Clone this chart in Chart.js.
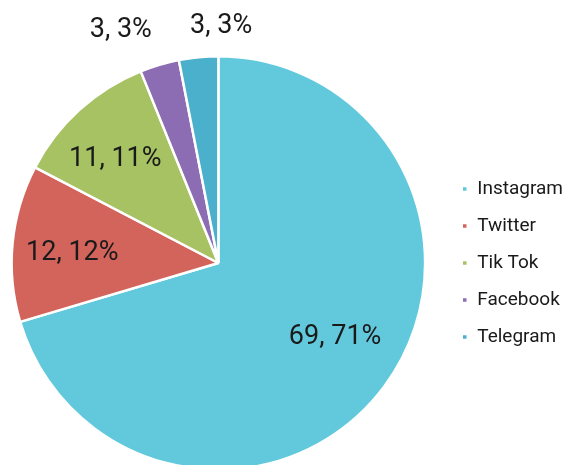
<!DOCTYPE html>
<html>
<head>
<meta charset="utf-8">
<script src="https://cdn.jsdelivr.net/npm/chart.js@4"></script>
<style>
    html, body { margin: 0; padding: 0; background: #fff; overflow: hidden; }
    #wrap { width: 562px; height: 480px; }
</style>
</head>
<body>
<div id="wrap"><canvas id="pie-chart" width="562" height="480"></canvas></div>
<script>
const LABELS = ["Instagram", "Twitter", "Tik Tok", "Facebook", "Telegram"];
const VALUES = [69, 12, 11, 3, 3];
const PERCENTS = [71, 12, 11, 3, 3];

const COLORS = [
    "#62c9dd",
    "#d3645c",
    "#a7c262",
    "#8c6cb2",
    "#4bb0cb",
];

// where each value label sits: fraction of radius + small nudge
const LABEL_POS = [
    { r: 0.62, dx: 14, dy: -2 },
    { r: 0.70, dx: -2, dy: 4 },
    { r: 0.72, dx: -3, dy: 6 },
    { r: 1.20, dx: -27, dy: 5 },
    { r: 1.17, dx: 26, dy: 4 },
];

const valueLabels = {
    id: "valueLabels",
    afterDatasetsDraw(chart) {
        const ctx = chart.ctx;
        const arcs = chart.getDatasetMeta(0).data;
        ctx.save();
        ctx.font = "27px Roboto";
        ctx.fillStyle = "#1a1a1a";
        ctx.textAlign = "center";
        ctx.textBaseline = "middle";
        arcs.forEach((arc, i) => {
            const p = LABEL_POS[i];
            const mid = (arc.startAngle + arc.endAngle) / 2;
            const r = arc.outerRadius * p.r;
            const x = arc.x + Math.cos(mid) * r + p.dx;
            const y = arc.y + Math.sin(mid) * r + p.dy;
            ctx.fillText(`${VALUES[i]}, ${PERCENTS[i]}%`, x, y);
        });
        ctx.restore();
    }
};

// layout won't take a negative left pad, so widen the area after layout
const pullLeft = {
    id: "pullLeft",
    afterLayout(chart) {
        const a = chart.chartArea;
        a.left -= 7;
        a.width = a.right - a.left;
    }
};

const ctx = document.getElementById("pie-chart").getContext("2d");

new Chart(ctx, {
    type: "pie",
    data: {
        labels: LABELS,
        datasets: [{
            data: VALUES,
            backgroundColor: COLORS,
            borderColor: "#ffffff",
            borderWidth: 2.5,
        }]
    },
    options: {
        responsive: false,
        animation: false,
        layout: { padding: { top: 55, bottom: 9, left: 0, right: -11 } },
        plugins: {
            legend: {
                position: "right",
                labels: {
                    color: "#1a1a1a",
                    font: { family: "Roboto", size: 19 },
                    boxWidth: 6,
                    boxHeight: 6,
                    padding: 18,
                }
            },
            tooltip: { enabled: false }
        }
    },
    plugins: [valueLabels, pullLeft]
});
</script>
</body>
</html>
